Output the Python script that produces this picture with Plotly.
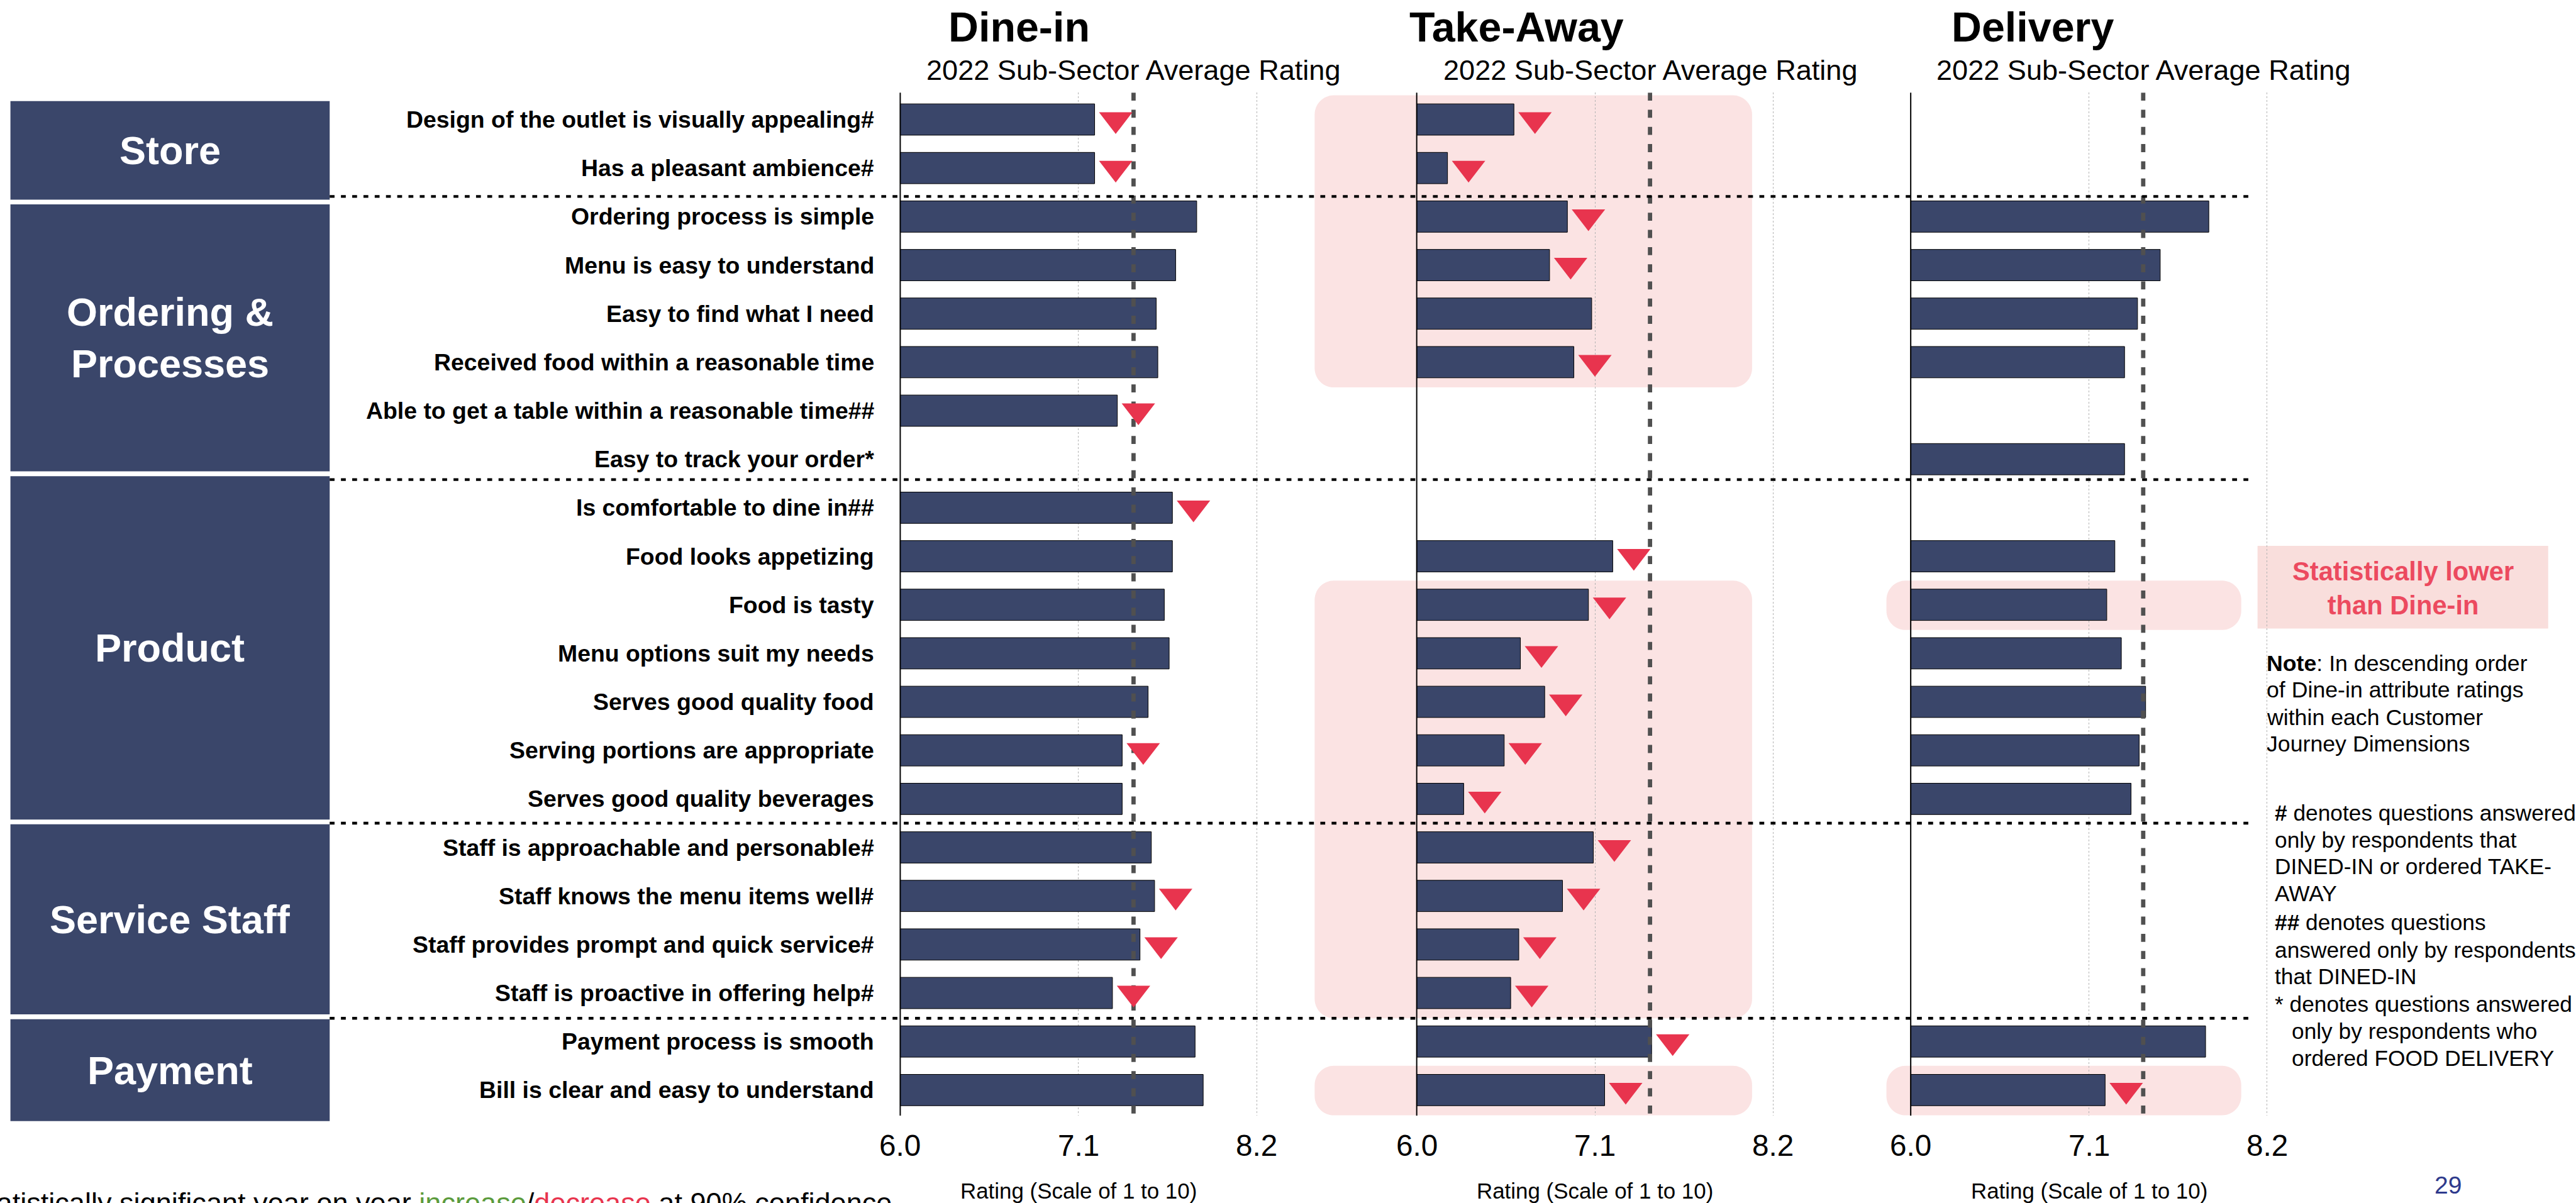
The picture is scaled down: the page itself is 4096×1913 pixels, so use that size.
import plotly.graph_objects as go

# ---------------- data ----------------
dimensions = ["Store", "Ordering &amp;<br>Processes", "Product", "Service Staff", "Payment"]
dimension_box_edges = [-0.38, 1.70, 7.30, 14.475, 18.49, 20.64]   # row units
separator_rows = [1.585, 7.42, 14.5, 18.52]

attributes = [
    "Design of the outlet is visually appealing#",
    "Has a pleasant ambience#",
    "Ordering process is simple",
    "Menu is easy to understand",
    "Easy to find what I need",
    "Received food within a reasonable time",
    "Able to get a table within a reasonable time##",
    "Easy to track your order*",
    "Is comfortable to dine in##",
    "Food looks appetizing",
    "Food is tasty",
    "Menu options suit my needs",
    "Serves good quality food",
    "Serving portions are appropriate",
    "Serves good quality beverages",
    "Staff is approachable and personable#",
    "Staff knows the menu items well#",
    "Staff provides prompt and quick service#",
    "Staff is proactive in offering help#",
    "Payment process is smooth",
    "Bill is clear and easy to understand",
]

dine_in = [7.20, 7.20, 7.83, 7.70, 7.58, 7.59, 7.34, None, 7.68, 7.68, 7.63,
           7.66, 7.53, 7.37, 7.37, 7.55, 7.57, 7.48, 7.31, 7.82, 7.87]
take_away = [6.60, 6.19, 6.93, 6.82, 7.08, 6.97, None, None, None, 7.21, 7.06,
             6.64, 6.79, 6.54, 6.29, 7.09, 6.90, 6.63, 6.58, 7.45, 7.16]
delivery = [None, None, 7.84, 7.54, 7.40, 7.32, None, 7.32, None, 7.26, 7.21,
            7.30, 7.45, 7.41, 7.36, None, None, None, None, 7.82, 7.20]

# statistically significant year-on-year decrease (1 = yes)
dine_in_decrease = [1, 1, 0, 0, 0, 0, 1, 0, 1, 0, 0, 0, 0, 1, 0, 0, 1, 1, 1, 0, 0]
take_away_decrease = [1, 1, 1, 1, 0, 1, 0, 0, 0, 1, 1, 1, 1, 1, 1, 1, 1, 1, 1, 1, 1]
delivery_decrease = [0, 0, 0, 0, 0, 0, 0, 0, 0, 0, 0, 0, 0, 0, 0, 0, 0, 0, 0, 0, 1]

# statistically lower than Dine-in (1 = yes)
dine_in_lower = [0] * 21
take_away_lower = [1, 1, 1, 1, 1, 1, 0, 0, 0, 0, 1, 1, 1, 1, 1, 1, 1, 1, 1, 0, 1]
delivery_lower = [0, 0, 0, 0, 0, 0, 0, 0, 0, 0, 1, 0, 0, 0, 0, 0, 0, 0, 0, 0, 1]

channels = ["Dine-in", "Take-Away", "Delivery"]
sector_average = [7.44, 7.44, 7.435]
tick_values = [6.0, 7.1, 8.2]
tick_labels = ["6.0", "7.1", "8.2"]

note_lines = ["<b>Note</b>: In descending order", "of Dine-in attribute ratings",
              "within each Customer", "Journey Dimensions"]
legend_lines = ["<b>#</b> denotes questions answered", "only by respondents that",
                "DINED-IN or ordered TAKE-", "AWAY", "<b>##</b> denotes questions",
                "answered only by respondents", "that DINED-IN",
                "* denotes questions answered", "only by respondents who",
                "ordered FOOD DELIVERY"]
legend_indent = [0, 0, 0, 0, 0, 0, 0, 0, 1, 1]

# ---------------- geometry / style ----------------
W_REF, H_REF = 4813.0, 2248.0
WIN_W, WIN_H = 4096, 1913
S = WIN_W / W_REF


def fx(p):
    return p / W_REF


def fy(p):
    return 1 - p / H_REF


def fs(p):
    return round(p * S, 1)


PPU = 302.7                      # reference px per rating unit
ORIGINS = [1682, 2647, 3570]     # reference px of 6.0 in each panel
X_RANGE = [5.3, 8.3]
ROW_TOP, ROW_BOT = -0.555, 20.53
Y_TOP_PX, Y_BOT_PX = 173.0, 2085.0
PX_PER_ROW = (Y_BOT_PX - Y_TOP_PX) / (ROW_BOT - ROW_TOP)


def row_px(r):
    return Y_TOP_PX + (r - ROW_TOP) * PX_PER_ROW


NAVY = "#3A466A"
RED = "#E8344E"
PINK = "#FBE3E3"
PINK2 = "#F9DEDC"
RED_TEXT = "#EC4A5F"
FONT = "Liberation Sans, Arial, Helvetica, sans-serif"
BAR_WIDTH = 0.645
MARK_OFFSET = 0.13
lower_box_x = [None, (5.37, 8.07), (5.85, 8.04)]
title_left_px = [1771, 2632, 3644.5]

series = [dine_in, take_away, delivery]
decreases = [dine_in_decrease, take_away_decrease, delivery_decrease]
lowers = [dine_in_lower, take_away_lower, delivery_lower]

fig = go.Figure()
shapes = []
annotations = []


def ann(text, x, y, size, xref="paper", yref="paper", xanchor="center",
        yanchor="middle", color="black"):
    return dict(text=text, x=x, y=y, xref=xref, yref=yref, xanchor=xanchor,
                yanchor=yanchor, showarrow=False, borderpad=0,
                font=dict(size=size, color=color, family=FONT))


def rounded_path(x0, x1, y0, y1, rx, ry):
    k = 0.5523
    p = []
    p.append(f"M{x0 + rx},{y0} L{x1 - rx},{y0}")
    p.append(f"C{x1 - rx + k * rx},{y0} {x1},{y0 + ry - k * ry} {x1},{y0 + ry}")
    p.append(f"L{x1},{y1 - ry}")
    p.append(f"C{x1},{y1 - ry + k * ry} {x1 - rx + k * rx},{y1} {x1 - rx},{y1}")
    p.append(f"L{x0 + rx},{y1}")
    p.append(f"C{x0 + rx - k * rx},{y1} {x0},{y1 - ry + k * ry} {x0},{y1 - ry}")
    p.append(f"L{x0},{y0 + ry}")
    p.append(f"C{x0},{y0 + ry - k * ry} {x0 + rx - k * rx},{y0} {x0 + rx},{y0} Z")
    return " ".join(p)


layout_axes = {}
for i, vals in enumerate(series):
    xa = "x" if i == 0 else f"x{i + 1}"
    xkey = "xaxis" if i == 0 else f"xaxis{i + 1}"
    o = ORIGINS[i]
    layout_axes[xkey] = dict(
        domain=[fx(o - (6.0 - X_RANGE[0]) * PPU), fx(o + (X_RANGE[1] - 6.0) * PPU)],
        range=X_RANGE, tickvals=tick_values, showticklabels=False, ticks="",
        showgrid=True, gridcolor="#b3b3b3", gridwidth=1.2, griddash="dot",
        zeroline=False, showline=False, anchor="y", fixedrange=True)

    rows = [r for r, v in enumerate(vals) if v is not None]
    fig.add_trace(go.Bar(
        x=[vals[r] - 6.0 for r in rows], base=6.0, y=rows, orientation="h",
        width=BAR_WIDTH, marker=dict(color=NAVY, line=dict(color="black", width=1)),
        xaxis=xa, yaxis="y", showlegend=False, hoverinfo="skip"))

    # sub-sector average line
    fig.add_trace(go.Scatter(
        x=[sector_average[i], sector_average[i]], y=[ROW_TOP, ROW_BOT], mode="lines",
        line=dict(color="#505050", width=fs(8), dash=f"{fs(15)}px,{fs(17)}px"),
        xaxis=xa, yaxis="y", showlegend=False, hoverinfo="skip"))

    # significant decrease markers
    drows = [r for r in rows if decreases[i][r]]
    fig.add_trace(go.Scatter(
        x=[vals[r] + MARK_OFFSET for r in drows], y=drows, mode="markers",
        marker=dict(symbol="triangle-down", size=46, color=RED, line=dict(width=0)),
        xaxis=xa, yaxis="y", showlegend=False, hoverinfo="skip"))

    # axis line at 6.0
    shapes.append(dict(type="line", xref=xa, yref="y", x0=6.0, x1=6.0,
                       y0=ROW_TOP, y1=ROW_BOT, line=dict(color="black", width=2),
                       layer="above"))

    # "statistically lower than Dine-in" highlight boxes
    if lower_box_x[i] is not None:
        flags = lowers[i]
        runs = []
        r = 0
        while r < len(flags):
            if flags[r]:
                s = r
                while r + 1 < len(flags) and flags[r + 1]:
                    r += 1
                runs.append((s, r))
            r += 1
        bx0, bx1 = lower_box_x[i]
        rx = 36 / PPU
        ry = 36 / PX_PER_ROW
        for s, e in runs:
            shapes.append(dict(type="path", xref=xa, yref="y",
                               path=rounded_path(bx0, bx1, s - 0.5, e + 0.52, rx, ry),
                               fillcolor=PINK, line=dict(width=0), layer="below"))

    # titles
    annotations.append(ann(f"<b>{channels[i]}</b>", fx(title_left_px[i]), fy(50), fs(78),
                           xanchor="left"))
    annotations.append(ann("2022 Sub-Sector Average Rating", sector_average[i], fy(131),
                           fs(53), xref=xa))
    for tv, tl in zip(tick_values, tick_labels):
        annotations.append(ann(tl, tv, fy(2141), fs(56), xref=xa))
    annotations.append(ann("Rating (Scale of 1 to 10)", (tick_values[0] + tick_values[-1]) / 2,
                           fy(2225), fs(41), xref=xa))

# row labels
for r, a in enumerate(attributes):
    annotations.append(ann(f"<b>{a}</b>", fx(1635), r, fs(44), yref="y", xanchor="right"))

# dimension boxes
gap = 4.5
for k, d in enumerate(dimensions):
    top = row_px(dimension_box_edges[k]) + (gap if k > 0 else 0)
    bot = row_px(dimension_box_edges[k + 1]) - (gap if k < len(dimensions) - 1 else 0)
    shapes.append(dict(type="rect", xref="paper", yref="paper", x0=fx(19.5), x1=fx(616),
                       y0=fy(bot), y1=fy(top), fillcolor=NAVY, line=dict(width=0),
                       layer="below"))
    annotations.append(ann(f"<b>{d}</b>", fx(317.75), fy((top + bot) / 2), fs(74),
                           color="white"))

# separators
for sr in separator_rows:
    yy = fy(row_px(sr))
    shapes.append(dict(type="line", xref="paper", yref="paper", x0=fx(616), x1=fx(4212),
                       y0=yy, y1=yy, line=dict(color="black", width=fs(5.2),
                                               dash=f"{fs(9)}px,{fs(12)}px"),
                       layer="above"))

# statistically lower legend box
shapes.append(dict(type="rect", xref="paper", yref="paper", x0=fx(4218), x1=fx(4761),
                   y0=fy(1174.5), y1=fy(1020), fillcolor=PINK2, line=dict(width=0),
                   layer="below"))
annotations.append(ann("<b>Statistically lower<br>than Dine-in</b>", fx(4489.5), fy(1099),
                       fs(49), color=RED_TEXT))

# notes
note_y = [1240, 1289.5, 1341, 1390.5]
for t, yv in zip(note_lines, note_y):
    annotations.append(ann(t, fx(4234), fy(yv), fs(42), xanchor="left"))
legend_y = [1518.8, 1569.3, 1619, 1668.7, 1723.4, 1774.7, 1824.4, 1875.7, 1927, 1976.7]
for t, yv, ind in zip(legend_lines, legend_y, legend_indent):
    annotations.append(ann(t, fx(4248.6 + 32.4 * ind), fy(yv), fs(41.5), xanchor="left"))

# page number
annotations.append(ann("29", fx(4574), fy(2214), fs(46), color="#2E3A8C"))

# footnote (cut by the page edges as in the original)
annotations.append(ann(
    "Statistically significant year on year "
    "<span style='color:#5B9B3C'>increase</span>/"
    "<span style='color:#E8344E'>decrease</span> at 90% confidence",
    fx(1667), fy(2247), fs(53), xanchor="right"))

fig.update_layout(
    width=WIN_W, height=WIN_H, margin=dict(l=0, r=0, t=0, b=0),
    paper_bgcolor="white", plot_bgcolor="rgba(0,0,0,0)",
    barmode="overlay", showlegend=False,
    yaxis=dict(domain=[fy(Y_BOT_PX), fy(Y_TOP_PX)], range=[ROW_BOT, ROW_TOP],
               showticklabels=False, ticks="", showgrid=False, zeroline=False,
               showline=False, anchor="x", fixedrange=True),
    shapes=shapes, annotations=annotations,
    font=dict(family=FONT, color="black"),
    **layout_axes,
)

fig.write_html("out.html", config={"displayModeBar": False},
               post_script=["document.body.style.margin='0';"])
